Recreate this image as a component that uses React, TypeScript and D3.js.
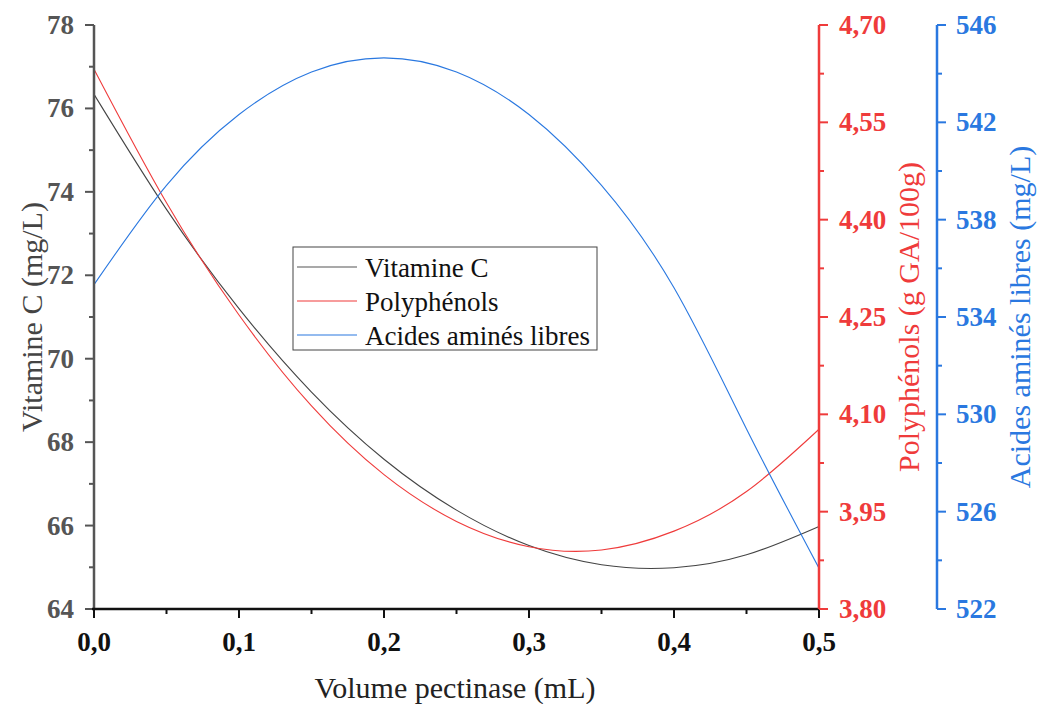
import React from "react";
import * as d3 from "d3";

const volumes = [0, 0.05, 0.1, 0.15, 0.2, 0.25, 0.3, 0.35, 0.4, 0.45, 0.5];
const vitamineC = [76.34, 73.58, 71.2, 69.2, 67.59, 66.37, 65.52, 65.06, 64.99, 65.3, 65.98];
const polyphenols = [4.632, 4.426, 4.253, 4.113, 4.007, 3.935, 3.896, 3.891, 3.92, 3.981, 4.077];
const acidesAmines = [535.33, 539.41, 542.32, 544.07, 544.65, 544.07, 542.32, 539.41, 535.2, 529.4, 523.68];

const xTicks = [0, 0.1, 0.2, 0.3, 0.4, 0.5];
const leftTicks = [64, 66, 68, 70, 72, 74, 76, 78];
const redTicks = [3.8, 3.95, 4.1, 4.25, 4.4, 4.55, 4.7];
const blueTicks = [522, 526, 530, 534, 538, 542, 546];

const legendItems = ["Vitamine C", "Polyphénols", "Acides aminés libres"];

const GRAY = "#555555";
const RED = "#ef3b3b";
const BLUE = "#2a78e0";
const FONT = "Liberation Serif";

const L = 94, R = 819, T = 25, B = 609;
const BLUE_AXIS = 937;

export default function App() {
  const x = d3.scaleLinear().domain([0, 0.5]).range([L, R]);
  const yL = d3.scaleLinear().domain([64, 78]).range([B, T]);
  const yR = d3.scaleLinear().domain([3.8, 4.7]).range([B, T]);
  const yB = d3.scaleLinear().domain([522, 546]).range([B, T]);

  const mk = (vals: number[], y: d3.ScaleLinear<number, number>) =>
    d3.line<number>().x((_, i) => x(volumes[i])).y((v) => y(v)).curve(d3.curveNatural)(vals) || "";

  const xMinor = d3.range(0, 11).map((i) => i * 0.05);
  const leftMinor = d3.range(64, 79, 1);
  const redMinor = d3.range(0, 13).map((i) => 3.8 + i * 0.075);
  const blueMinor = d3.range(522, 547, 2);

  const fmt2 = (v: number) => v.toFixed(2).replace(".", ",");
  const fmt1 = (v: number) => v.toFixed(1).replace(".", ",");

  const colors = [GRAY, RED, BLUE];
  const ts = { fontFamily: FONT };
  const mid = (T + B) / 2;

  return (
    <svg width={1037} height={704} style={{ position: "absolute", left: 0, top: 0, background: "#fff" }}>
      <rect width={1037} height={704} fill="#fff" />
      {/* curves */}
      <path d={mk(vitamineC, yL)} fill="none" stroke="#444" strokeWidth={1.1} />
      <path d={mk(polyphenols, yR)} fill="none" stroke={RED} strokeWidth={1.1} />
      <path d={mk(acidesAmines, yB)} fill="none" stroke={BLUE} strokeWidth={1.1} />

      {/* left axis */}
      <line x1={L} x2={L} y1={T} y2={B} stroke={GRAY} strokeWidth={2.5} />
      {leftMinor.map((v) => (
        <line key={"lm" + v} x1={L} x2={L - (v % 2 === 0 ? 9 : 5)} y1={yL(v)} y2={yL(v)} stroke={GRAY} strokeWidth={2} />
      ))}
      {leftTicks.map((v) => (
        <text key={"lt" + v} style={ts} x={74} y={yL(v) + 9} textAnchor="end" fontSize={27} fontWeight="bold" fill={GRAY}>{v}</text>
      ))}
      <text style={ts} transform={`translate(42,${mid}) rotate(-90)`} textAnchor="middle" fontSize={30} fill="#444">Vitamine C (mg/L)</text>

      {/* bottom axis */}
      <line x1={L - 2} x2={R} y1={B} y2={B} stroke="#111" strokeWidth={2.5} />
      {xMinor.map((v, i) => (
        <line key={"xm" + i} x1={x(v)} x2={x(v)} y1={B} y2={B + (i % 2 === 0 ? 9 : 5)} stroke="#111" strokeWidth={2} />
      ))}
      {xTicks.map((v) => (
        <text key={"xt" + v} style={ts} x={x(v)} y={651} textAnchor="middle" fontSize={27} fontWeight="bold" fill="#111">{fmt1(v)}</text>
      ))}
      <text style={ts} x={455} y={698} textAnchor="middle" fontSize={30} fill="#222">Volume pectinase (mL)</text>

      {/* red axis */}
      <line x1={R} x2={R} y1={T} y2={B} stroke={RED} strokeWidth={2.5} />
      {redMinor.map((v, i) => (
        <line key={"rm" + i} x1={R} x2={R + (i % 2 === 0 ? 9 : 5)} y1={yR(v)} y2={yR(v)} stroke={RED} strokeWidth={2} />
      ))}
      {redTicks.map((v) => (
        <text key={"rt" + v} style={ts} x={839} y={yR(v) + 9} textAnchor="start" fontSize={27} fontWeight="bold" fill={RED}>{fmt2(v)}</text>
      ))}
      <text style={ts} transform={`translate(919,${mid}) rotate(-90)`} textAnchor="middle" fontSize={30} fill={RED}>Polyphénols (g GA/100g)</text>

      {/* blue axis */}
      <line x1={BLUE_AXIS} x2={BLUE_AXIS} y1={T} y2={B} stroke={BLUE} strokeWidth={2.5} />
      {blueMinor.map((v) => (
        <line key={"bm" + v} x1={BLUE_AXIS} x2={BLUE_AXIS + ((v - 522) % 4 === 0 ? 9 : 5)} y1={yB(v)} y2={yB(v)} stroke={BLUE} strokeWidth={2} />
      ))}
      {blueTicks.map((v) => (
        <text key={"bt" + v} style={ts} x={956} y={yB(v) + 9} textAnchor="start" fontSize={27} fontWeight="bold" fill={BLUE}>{v}</text>
      ))}
      <text style={ts} transform={`translate(1030,${mid}) rotate(-90)`} textAnchor="middle" fontSize={30} fill={BLUE}>Acides aminés libres (mg/L)</text>

      {/* legend */}
      <rect x={293} y={247} width={304} height={103} fill="#fff" stroke="#444" strokeWidth={1} />
      {legendItems.map((name, i) => (
        <g key={name}>
          <line x1={297} x2={357} y1={267 + i * 34} y2={267 + i * 34} stroke={colors[i]} strokeWidth={1.2} />
          <text style={ts} x={365} y={277 + i * 34} fontSize={27} fill="#111">{name}</text>
        </g>
      ))}
    </svg>
  );
}
